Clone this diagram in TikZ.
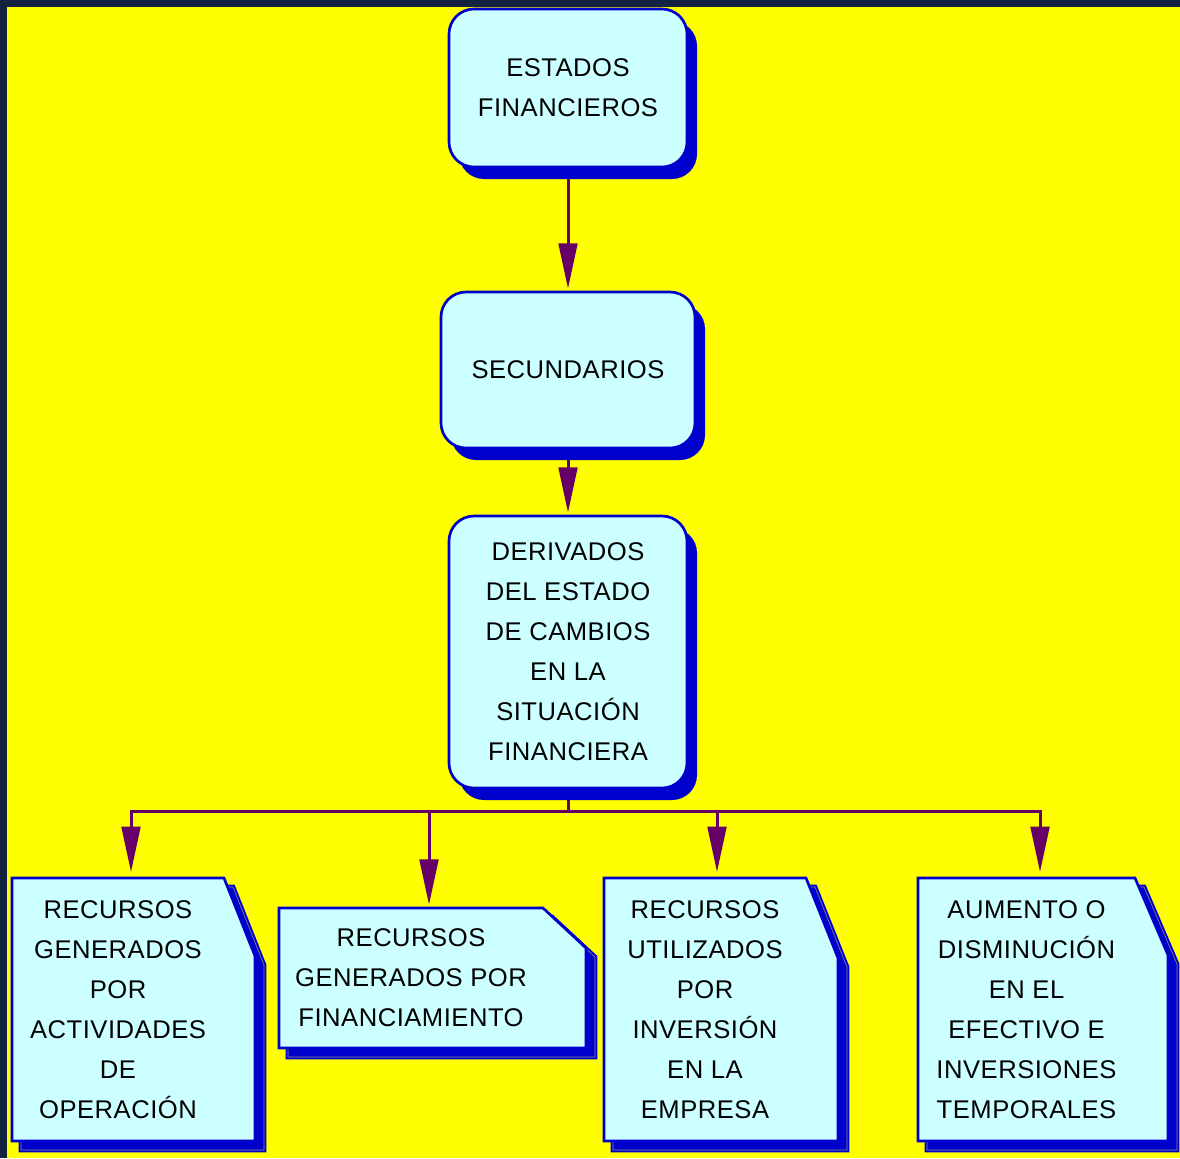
\documentclass[tikz,border=0pt]{standalone}
\usepackage{fontspec}
\setmainfont[LetterSpace=2]{Liberation Sans}
\usetikzlibrary{arrows.meta,calc,shadows}
\definecolor{bgyellow}{HTML}{FFFF00}
\definecolor{navyedge}{HTML}{13233F}
\definecolor{boxfill}{HTML}{CCFFFF}
\definecolor{boxblue}{HTML}{0000CC}
\definecolor{arrowpurple}{HTML}{660066}
\definecolor{shadowline}{HTML}{8C8C8C}
\pgfdeclarelayer{back}
\pgfdeclarelayer{conn}
\pgfdeclarelayer{shp}
\pgfsetlayers{back,conn,shp,main}
% document shape: #1 node, #2 cut dx, #3 cut dy
\newcommand\docframe[3]{%
  \begin{pgfonlayer}{shp}
  \path[docshadow] ([shift={(9,9)}]#1.north west) -- ([shift={(9,9)}]#1.north east)
     -- ($(#1.north east)+(#2+9,#3+9)$) -- ($(#1.south east)+(#2+9,9)$)
     -- ([shift={(9,9)}]#1.south west) -- cycle;
  \draw[shadowline, line width=0.45pt] ([shift={(9,9)}]#1.north west) -- ([shift={(9,9)}]#1.north east)
     -- ($(#1.north east)+(#2+9,#3+9)$) -- ($(#1.south east)+(#2+9,9)$)
     -- ([shift={(9,9)}]#1.south west) -- cycle;
  \path[docshape] (#1.north west) -- (#1.north east) -- ($(#1.north east)+(#2,#3)$)
     -- ($(#1.south east)+(#2,0)$) -- (#1.south west) -- cycle;
  \end{pgfonlayer}}
\begin{document}
\begin{tikzpicture}[x=0.75pt,y=-0.75pt,
  txt/.style={font=\fontsize{19.2pt}{30pt}\selectfont, align=center, text=black},
  roundbox/.style={txt, draw=boxblue, line width=2pt, fill=boxfill, rounded corners=18.75pt,
     inner sep=0pt, drop shadow={shadow xshift=7.5pt, shadow yshift=-9pt, fill=boxblue, opacity=1}},
  docbox/.style={txt, inner sep=0pt, outer sep=0pt, draw=none},
  docshape/.style={draw=boxblue, line width=2pt, fill=boxfill, line join=miter},
  docshadow/.style={fill=boxblue, draw=boxblue, line width=3.5pt, line join=miter},
  conn/.style={draw=arrowpurple, line width=2.25pt},
  arr/.style={conn, -{Triangle[length=34pt,width=14pt]}},
]
\useasboundingbox (0,0) rectangle (1180,1158);
\begin{pgfonlayer}{back}
  \fill[bgyellow] (0,0) rectangle (1180,1158);
  \fill[navyedge] (0,0) rectangle (1180,7);
  \fill[navyedge] (0,0) rectangle (7,1158);
\end{pgfonlayer}

% rounded boxes
\node[roundbox, minimum width=178.5pt, minimum height=118.5pt] (b1) at (568,88) {ESTADOS\\FINANCIEROS};
\node[roundbox, minimum width=190.5pt, minimum height=117pt] (b2) at (568,370) {SECUNDARIOS};
\node[roundbox, minimum width=178.5pt, minimum height=204pt] (b3) at (568,652)
  {DERIVADOS\\DEL ESTADO\\DE CAMBIOS\\EN LA\\SITUACIÓN\\FINANCIERA};

% document boxes
\node[docbox, minimum width=159pt, minimum height=197.25pt] (d1) at (118,1009.5)
  {RECURSOS\\GENERADOS\\POR\\ACTIVIDADES\\DE\\OPERACIÓN};
\node[docbox, minimum width=198pt, minimum height=105pt] (d2) at (411,978)
  {RECURSOS\\GENERADOS POR\\FINANCIAMIENTO};
\node[docbox, minimum width=151.5pt, minimum height=197.25pt] (d3) at (705,1009.5)
  {RECURSOS\\UTILIZADOS\\POR\\INVERSIÓN\\EN LA\\EMPRESA};
\node[docbox, minimum width=162.75pt, minimum height=197.25pt] (d4) at (1026.5,1009.5)
  {AUMENTO O\\DISMINUCIÓN\\EN EL\\EFECTIVO E\\INVERSIONES\\TEMPORALES};
\docframe{d1}{31}{78}
\docframe{d2}{43}{40}
\docframe{d3}{32}{80}
\docframe{d4}{33}{77}

% connectors
\begin{pgfonlayer}{conn}
  \draw[arr, shorten >=1.5pt] (b1.south) -- (b2.north);
  \draw[arr, shorten >=1.5pt] (b2.south) -- (b3.north);
  \coordinate (j) at ($(b3.south)+(0,23)$);
  \coordinate (a1) at (131,811);
  \coordinate (a2) at (429,811);
  \coordinate (a3) at (717,811);
  \coordinate (a4) at (1040,811);
  \draw[conn] (b3.south) -- (j);
  \draw[conn, line cap=rect] (a1) -- (a4);
  \draw[arr, shorten >=4.5pt] (a1) -- (a1 |- d1.north);
  \draw[arr, shorten >=2.5pt] (a2) -- (a2 |- d2.north);
  \draw[arr, shorten >=4.5pt] (a3) -- (a3 |- d3.north);
  \draw[arr, shorten >=4.5pt] (a4) -- (a4 |- d4.north);
\end{pgfonlayer}
\end{tikzpicture}
\end{document}
